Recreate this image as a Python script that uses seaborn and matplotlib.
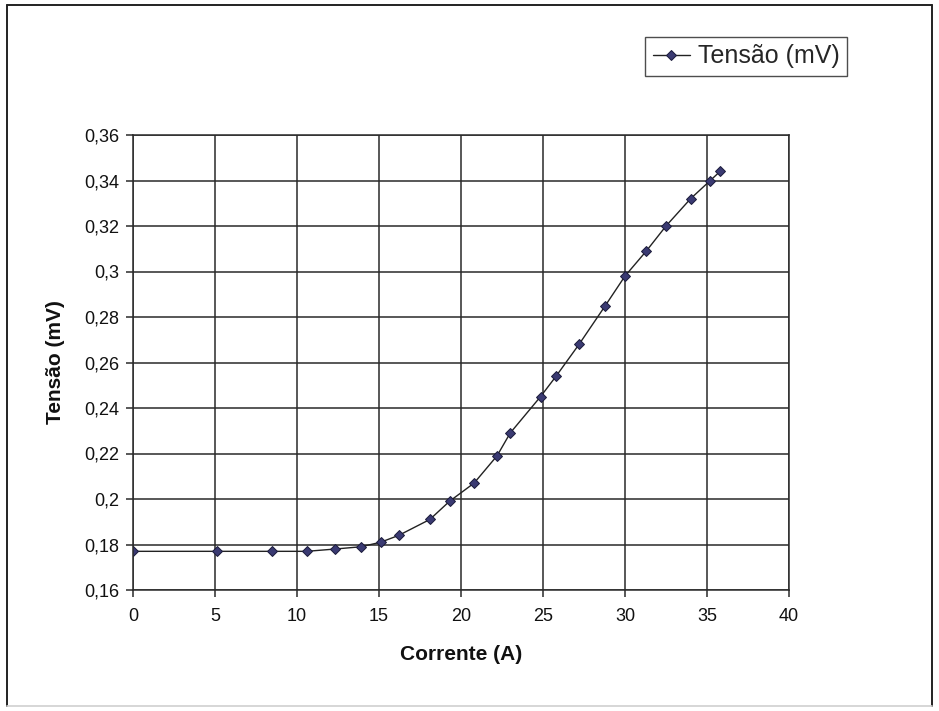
import matplotlib
matplotlib.use("Agg")
import matplotlib.pyplot as plt
from matplotlib.lines import Line2D
from matplotlib.ticker import FuncFormatter
import seaborn as sns
import pandas as pd

corrente = [0.0, 5.1, 8.5, 10.6, 12.3, 13.9, 15.1, 16.2, 18.1, 19.3, 20.8, 22.2,
            23.0, 24.85, 25.8, 27.2, 28.8, 30.0, 31.3, 32.5, 34.0, 35.2, 35.8]
tensao = [0.177, 0.177, 0.177, 0.177, 0.178, 0.179, 0.181, 0.184, 0.191, 0.199, 0.207, 0.219,
          0.229, 0.245, 0.254, 0.268, 0.285, 0.298, 0.309, 0.320, 0.332, 0.340, 0.344]
x_ticks = [0, 5, 10, 15, 20, 25, 30, 35, 40]
y_ticks = [0.16, 0.18, 0.20, 0.22, 0.24, 0.26, 0.28, 0.30, 0.32, 0.34, 0.36]

df = pd.DataFrame({"Corrente (A)": corrente, "Tensão (mV)": tensao})

sns.set_theme(style="white")
plt.rcParams["font.family"] = ["Liberation Sans", "DejaVu Sans"]

W, H = 939, 711
fig = plt.figure(figsize=(W / 100, H / 100), dpi=100)
ax = fig.add_axes([133 / W, 1 - 590 / H, (789 - 133) / W, (590 - 135) / H])

sns.lineplot(data=df, x="Corrente (A)", y="Tensão (mV)", ax=ax,
             color="#222222", linewidth=1.0, marker="D", markersize=5,
             markerfacecolor="#3a3a72", markeredgecolor="#1a1a3a",
             markeredgewidth=0.7, label="Tensão (mV)", estimator=None, sort=False)

ax.set_xlim(0, 40)
ax.set_ylim(0.16, 0.36)
ax.set_xticks(x_ticks)
ax.set_yticks(y_ticks)


def comma_fmt(v, pos):
    s = f"{v:.2f}".rstrip("0").rstrip(".")
    return s.replace(".", ",")


ax.yaxis.set_major_formatter(FuncFormatter(comma_fmt))
ax.xaxis.set_major_formatter(FuncFormatter(lambda v, p: f"{int(round(v))}"))

ax.grid(True, color="#2a2a2a", linewidth=1.1)
ax.set_axisbelow(True)
for s in ax.spines.values():
    s.set_color("#2a2a2a")
    s.set_linewidth(1.1)

ax.tick_params(axis="both", direction="out", length=5, width=1.1, color="#2a2a2a",
               labelsize=13, labelcolor="#111111", bottom=True, left=True)
ax.tick_params(axis="y", pad=5)
ax.tick_params(axis="x", pad=8)

ax.set_xlabel("Corrente (A)", fontsize=15, fontweight="bold", color="#111111", labelpad=14)
ax.set_ylabel("Tensão (mV)", fontsize=15, fontweight="bold", color="#111111", labelpad=14)

leg = ax.legend(loc="upper left", bbox_to_anchor=(645 / W, 1 - 37 / H),
                bbox_transform=fig.transFigure, fontsize=18, frameon=True,
                fancybox=False, borderpad=0.3, handlelength=1.5, handletextpad=0.3,
                borderaxespad=0)
leg.get_frame().set_edgecolor("#222222")
leg.get_frame().set_linewidth(1.0)

# outer frame of the chart
frame_kw = dict(transform=fig.transFigure, color="#222222", linewidth=1.4)
fig.add_artist(Line2D([7 / W, 7 / W], [1 - 5 / H, 1 - 706 / H], **frame_kw))
fig.add_artist(Line2D([7 / W, 932 / W], [1 - 5 / H, 1 - 5 / H], **frame_kw))
fig.add_artist(Line2D([932 / W, 932 / W], [1 - 5 / H, 1 - 706 / H], **frame_kw))
fig.add_artist(Line2D([7 / W, 932 / W], [1 - 706 / H, 1 - 706 / H],
                      transform=fig.transFigure, color="#cfcfcf", linewidth=1.2))

fig.savefig("out.png", dpi=100, facecolor="white")
